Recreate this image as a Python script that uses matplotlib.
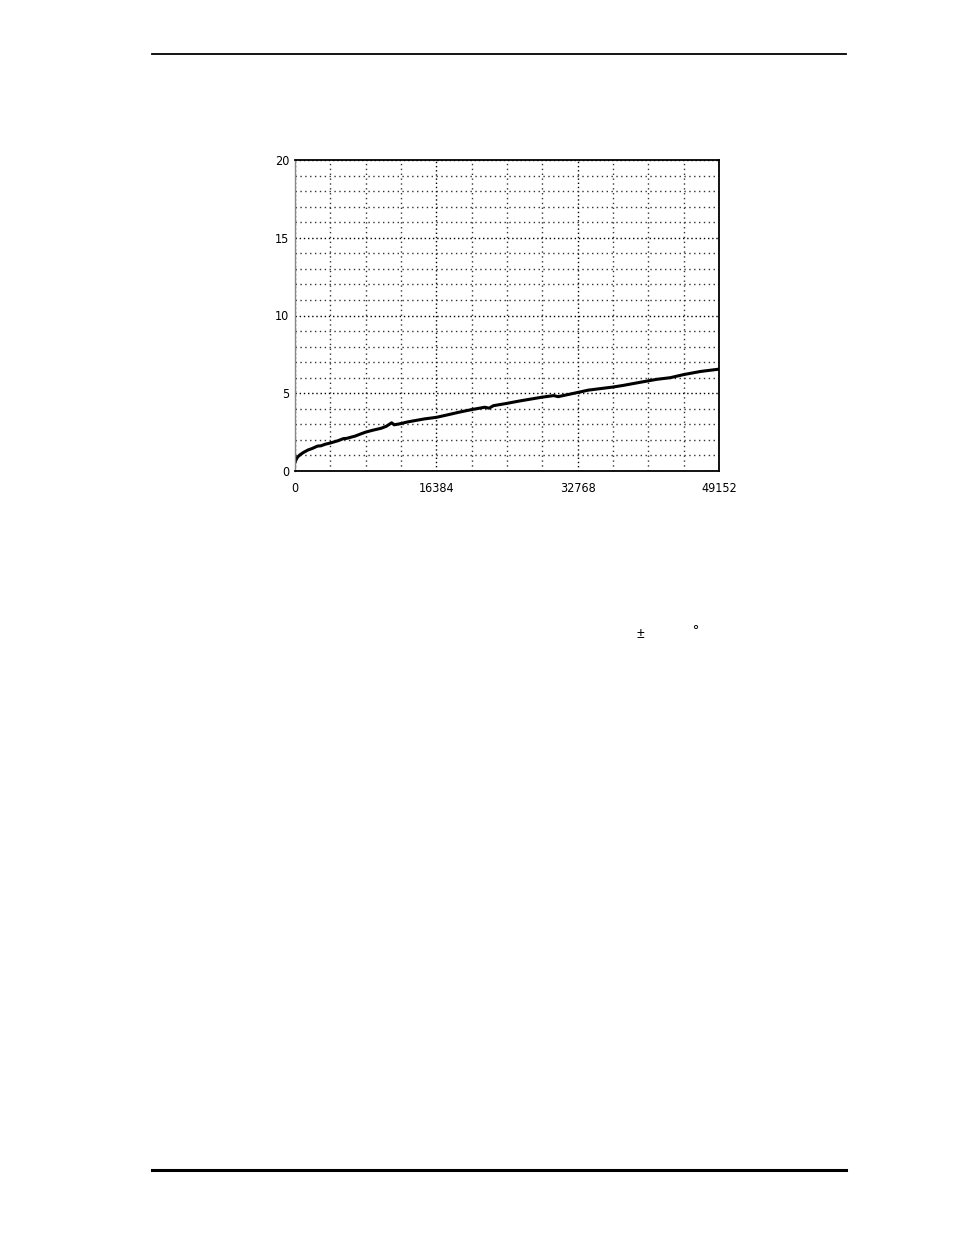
import numpy as np
import matplotlib
matplotlib.use("Agg")
from matplotlib import pyplot as plt

plt.rcParams['font.family'] = ['DejaVu Sans']
plt.rcParams['font.stretch'] = 'condensed'

# curve (sample index vs value)
samples = [0, 100, 300, 600, 1000, 1500, 2000, 2600, 3000, 3500, 4096, 5000, 5600, 6000,
           7000, 7600, 8192, 9000, 10000, 10600, 11200, 11500, 12288, 13000, 14000,
           15000, 16384, 18000, 19000, 20480, 22000, 22500, 23000, 24576, 26000,
           28672, 30000, 30500, 32768, 34000, 36864, 38000, 40960, 42000, 43500,
           45056, 47000, 49152]
values = [0.55, 0.7, 0.9, 1.05, 1.2, 1.35, 1.45, 1.6, 1.62, 1.72, 1.8, 1.95, 2.08, 2.1,
          2.25, 2.38, 2.5, 2.62, 2.75, 2.88, 3.1, 2.97, 3.05, 3.15, 3.25,
          3.35, 3.45, 3.65, 3.78, 3.95, 4.1, 4.04, 4.2, 4.35, 4.5,
          4.75, 4.85, 4.78, 5.05, 5.2, 5.4, 5.5, 5.8, 5.9, 6.0,
          6.2, 6.4, 6.55]

x_ticks = [0, 16384, 32768, 49152]
y_ticks = [0, 5, 10, 15, 20]

fig = plt.figure(figsize=(9.54, 12.35), dpi=100)

# page rules
fig.add_artist(plt.Line2D([152/954, 846/954], [1-54/1235]*2, color='black', lw=1.3))
fig.add_artist(plt.Line2D([152/954, 846/954], [1-1170/1235]*2, color='black', lw=2.2))

ax = fig.add_axes([295/954, 1-471/1235, 424/954, 311/1235])
ax.plot(samples, values, color='black', lw=2.2, solid_joinstyle='round')

ax.set_xlim(0, 49152)
ax.set_ylim(0, 20)
ax.set_xticks(x_ticks)
ax.set_yticks(y_ticks)
ax.set_xticks(np.arange(0, 49153, 4096), minor=True)
ax.set_yticks(np.arange(0, 21, 1), minor=True)
ax.tick_params(which='both', length=0, labelsize=9, pad=4)
ax.tick_params(axis='x', pad=8)

ax.grid(which='minor', color='#333333', linestyle=(0, (1, 2.5)), lw=1.0)
ax.grid(which='major', color='black', linestyle=(0, (1, 2)), lw=1.0)
ax.set_axisbelow(True)

for s in ['top', 'right', 'bottom']:
    ax.spines[s].set_linewidth(1.3)
ax.spines['left'].set_color('#888888')
ax.spines['left'].set_linewidth(1.0)

# stray symbols on the page
fig.text(640/954, 1-634/1235, '\u00b1', ha='center', va='center', fontsize=10,
         family=['Liberation Sans', 'DejaVu Sans'], stretch='normal')
fig.text(695/954, 1-631/1235, '\u00b0', ha='center', va='center', fontsize=11,
         family=['Liberation Sans', 'DejaVu Sans'], stretch='normal')

fig.savefig('out.png', dpi=100)
